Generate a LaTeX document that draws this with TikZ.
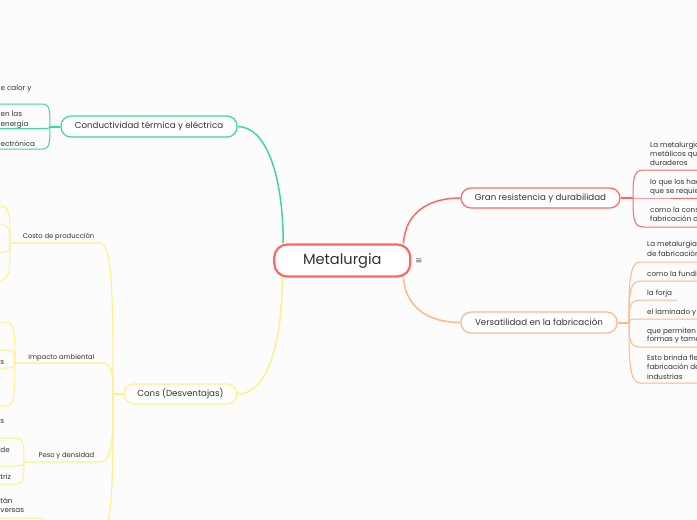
\documentclass[tikz,border=0pt]{standalone}
\usepackage{fontspec}
\setmainfont{Poppins}
\newfontfamily\djv{DejaVu Sans}
\definecolor{cred}{RGB}{255,102,102}
\definecolor{corg}{RGB}{255,184,138}
\definecolor{cgrn}{RGB}{64,214,164}
\definecolor{cylw}{RGB}{255,241,135}
\definecolor{ctxt}{RGB}{51,51,51}
\definecolor{cbg}{RGB}{252,252,252}
% #1 style, #2 junction x, #3 junction y, #4 child y, #5 end x, #6 horizontal offset
\newcommand\fan[6]{\draw[#1] (#2,#3) .. controls (#2,{#3+0.6*(#4-#3)}) and (#2,#4) .. ({#2+#6},#4) -- (#5,#4);}
\begin{document}
\begin{tikzpicture}[x=1pt,y=-1pt,
 topic/.style={draw, fill=white, rounded corners=10pt, line width=1.2pt, inner sep=0pt, text=ctxt, font=\fontsize{8.7}{11}\selectfont},
 small/.style={text=ctxt, inner sep=0pt, font=\fontsize{7.2}{9}\selectfont},
 label/.style={text=ctxt, inner sep=0pt, font=\fontsize{6.8}{9}\selectfont},
 conn/.style={line width=1.5pt},
 leaf/.style={line width=1pt},
 stub/.style={line width=2pt}]
\useasboundingbox (0,0) rectangle (697,520);
\fill[cbg] (0,0) rectangle (697,520);
\clip (0,0) rectangle (697,520);

% central
\node[draw=cred, fill=white, line width=2.2pt, rounded corners=13pt, minimum width=136pt, minimum height=32pt, inner sep=0pt, text=ctxt, font=\fontsize{14.6}{18}\selectfont] (c) at (342.3,260.5) {Metalurgia};
\node[text=ctxt!80, inner sep=0pt, font=\djv\fontsize{8.5}{9}\selectfont] (menu) at (419,261) {≡};

% topics
\node[topic, draw=cgrn, minimum width=176pt, minimum height=21pt] (cond) at (149,126.5) {Conductividad térmica y eléctrica};
\node[topic, draw=cylw, minimum width=113pt, minimum height=20pt] (cons) at (180.5,394) {Cons (Desventajas)};
\node[topic, draw=cred, minimum width=159pt, minimum height=20pt] (gran) at (540.5,198) {Gran resistencia y durabilidad};
\node[topic, draw=corg, minimum width=156pt, minimum height=21pt] (vers) at (539,322.5) {Versatilidad en la fabricación};

% main connectors
\draw[conn, cgrn] ([xshift=10pt]c.north west) .. controls ([xshift=10pt]c.north west |- 0,175) and (266,126.5) .. (cond.east);
\draw[conn, cylw] ([xshift=9pt]c.south west) .. controls ([xshift=9pt]c.south west |- 0,350) and (265,394) .. (cons.east);
\draw[conn, cred] ([xshift=-8pt]c.north east) .. controls ([xshift=-6pt]c.north east |- 0,213) and (428,198) .. (gran.west);
\draw[conn, corg] ([xshift=-8pt]c.south east) .. controls ([xshift=-6pt]c.south east |- 0,307) and (428,322.5) .. (vers.west);

% green leaves
\coordinate (jg) at (50,126.5);
\draw[stub, cgrn] (cond.west) -- (jg);
\fan{leaf,cgrn}{50}{126.5}{104}{-20}{-7}
\fan{leaf,cgrn}{50}{126.5}{128.5}{-20}{-7}
\fan{leaf,cgrn}{50}{126.5}{149}{-20}{-7}
\node[small, anchor=base west] (g1) at (0.5,90.2) {e calor y};
\node[small, anchor=base west] (g2a) at (0.5,116.5) {en las};
\node[small, anchor=base west] (g2b) at (0.5,126.8) {energía};
\node[small, anchor=base west] (g3) at (0.5,146.5) {ectrónica};

% red leaves
\coordinate (jr) at (633,198);
\draw[stub, cred] (gran.east) -- (jr);
\fan{leaf,cred}{633}{198}{170}{700}{10}
\fan{leaf,cred}{633}{198}{198}{700}{10}
\fan{leaf,cred}{633}{198}{227}{700}{10}
\node[small, anchor=base west] (r1a) at (650,147.5) {La metalurgia};
\node[small, anchor=base west] (r1b) at (650,156.5) {metálicos que};
\node[small, anchor=base west] (r1c) at (650,165.5) {duraderos};
\node[small, anchor=base west] (r2a) at (650,184.5) {lo que los hac};
\node[small, anchor=base west] (r2b) at (650,193.5) {que se requier};
\node[small, anchor=base west] (r3a) at (650,212.5) {como la const};
\node[small, anchor=base west] (r3b) at (650,221) {fabricación de};

% orange leaves
\coordinate (jo) at (629,322.5);
\draw[stub, corg] (vers.east) -- (jo);
\fan{leaf,corg}{629}{322.5}{262}{700}{11}
\fan{leaf,corg}{629}{322.5}{281}{700}{11}
\fan{leaf,corg}{629}{322.5}{300}{677}{11}
\fan{leaf,corg}{629}{322.5}{319}{700}{11}
\fan{leaf,corg}{629}{322.5}{347}{700}{11}
\fan{leaf,corg}{629}{322.5}{383}{700}{11}
\node[small, anchor=base west] (o1a) at (647,246.5) {La metalurgia};
\node[small, anchor=base west] (o1b) at (647,256.5) {de fabricación};
\node[small, anchor=base west] (o2) at (647,276.5) {como la fundic};
\node[small, anchor=base west] (o3) at (647,295) {la forja};
\node[small, anchor=base west] (o4) at (647,314) {el laminado y l};
\node[small, anchor=base west] (o5a) at (647,333) {que permiten l};
\node[small, anchor=base west] (o5b) at (647,341.5) {formas y tama};
\node[small, anchor=base west] (o6a) at (647,360.8) {Esto brinda fle};
\node[small, anchor=base west] (o6b) at (647,369.8) {fabricación de};
\node[small, anchor=base west] (o6c) at (647,379.2) {industrias};

% yellow subtopics
\coordinate (jy) at (113,394);
\draw[stub, cylw] (cons.west) -- (jy);
\fan{leaf,cylw,line width=1.2pt}{113}{394}{243}{10}{-13}
\fan{leaf,cylw,line width=1.2pt}{113}{394}{363}{15}{-13}
\fan{leaf,cylw,line width=1.2pt}{113}{394}{462}{24}{-13}
\fan{leaf,cylw,line width=1.2pt}{113}{394}{532}{60}{-13}
\node[label, anchor=base east] (costo) at (94.5,238.8) {Costo de producción};
\node[label, anchor=base east] (impacto) at (94.5,359.5) {Impacto ambiental};
\node[label, anchor=base east] (peso) at (94.5,457.5) {Peso y densidad};

% costo children
\fan{leaf,cylw}{10}{243}{206}{-20}{-8}
\fan{leaf,cylw}{10}{243}{225}{-20}{-8}
\fan{leaf,cylw}{10}{243}{252}{-20}{-8}
\fan{leaf,cylw}{10}{243}{280}{-20}{-8}
% impacto children
\fan{leaf,cylw}{15}{363}{322}{-20}{-8}
\fan{leaf,cylw}{15}{363}{350}{-20}{-8}
\fan{leaf,cylw}{15}{363}{368}{-20}{-8}
\fan{leaf,cylw}{15}{363}{406}{-20}{-8}
\node[small, anchor=base west] (i3) at (0.3,364.2) {s};
% peso children
\fan{leaf,cylw}{24}{462}{438}{-20}{-8}
\fan{leaf,cylw}{24}{462}{466}{-20}{-8}
\fan{leaf,cylw}{24}{462}{484}{-20}{-8}
\node[small, anchor=base west] (p1) at (0.3,423.5) {s};
\node[small, anchor=base west] (p2) at (0.3,452) {de};
\node[small, anchor=base west] (p3) at (0.3,479.5) {triz};
% fourth subtopic child
\fan{leaf,cylw}{47}{540}{518}{-20}{-8}
\node[small, anchor=base west] (q1a) at (0.3,503.5) {tán};
\node[small, anchor=base west] (q1b) at (0.3,512.5) {versas};
\end{tikzpicture}
\end{document}
